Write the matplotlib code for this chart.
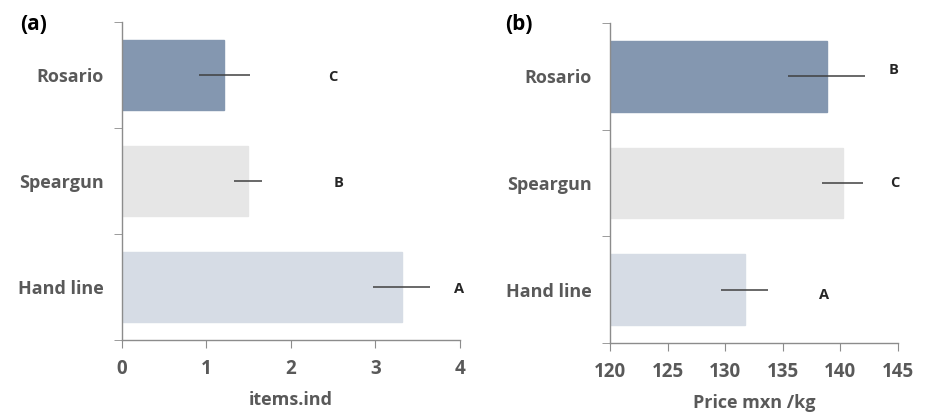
import matplotlib.pyplot as plt
import numpy as np

plt.rcParams['font.family'] = ['Open Sans', 'DejaVu Sans']

methods = ['Hand line', 'Speargun', 'Rosario']
colors = ['#d6dce5', '#e6e6e6', '#8497b0']

items = [3.31, 1.49, 1.21]
items_err = [0.34, 0.17, 0.30]
items_letters = ['A', 'B', 'C']
items_letter_x = [3.99, 2.56, 2.5]

price = [131.7, 140.2, 138.8]
price_err = [2.05, 1.8, 3.35]
price_letters = ['A', 'C', 'B']
price_letter_x = [138.6, 144.75, 144.6]
price_letter_dy = [-0.05, 0.0, 0.06]

grey = '#595959'
spine = '#8c8c8c'

fig = plt.figure(figsize=(9.27, 4.13), dpi=100)
ax1 = fig.add_axes([0.1316, 0.1768, 0.3646, 0.7699])
ax2 = fig.add_axes([0.658, 0.1695, 0.3107, 0.7745])

y = np.arange(len(methods))


def style(ax, xlabel, xticks, xlim):
    for s in ['top', 'right']:
        ax.spines[s].set_visible(False)
    for s in ['left', 'bottom']:
        ax.spines[s].set_color(spine)
        ax.spines[s].set_linewidth(1.0)
    ax.set_ylim(-0.5, 2.5)
    ax.set_xlim(*xlim)
    ax.set_xticks(xticks)
    ax.set_yticks(y)
    ax.set_yticklabels(methods, fontsize=13, fontweight='bold', color=grey)
    ax.set_yticks([-0.5, 0.5, 1.5, 2.5], minor=True)
    ax.tick_params(axis='y', which='major', length=0, pad=13)
    ax.tick_params(axis='y', which='minor', length=6, color=spine, direction='out')
    ax.tick_params(axis='x', length=6, color=spine, direction='out', labelsize=13.5,
                   labelcolor=grey, pad=8)
    for lab in ax.get_xticklabels():
        lab.set_fontweight('bold')
    ax.set_xlabel(xlabel, fontsize=13, fontweight='bold', color=grey, labelpad=8)


# (a) items per individual
ax1.barh(y, items, height=0.66, color=colors, edgecolor=colors)
ax1.errorbar(items, y, xerr=items_err, fmt='none', ecolor='#404040', elinewidth=1.1, capsize=0)
for yi, lx, lt in zip(y, items_letter_x, items_letters):
    ax1.text(lx, yi - 0.02, lt, ha='center', va='center', fontsize=10.5, fontweight='bold', color='#262626')
style(ax1, 'items.ind', [0, 1, 2, 3, 4], (0, 4))

# (b) price
ax2.barh(y, np.array(price) - 120, left=120, height=0.66, color=colors, edgecolor=colors)
ax2.errorbar(price, y, xerr=price_err, fmt='none', ecolor='#404040', elinewidth=1.1, capsize=0)
for yi, lx, lt, dy in zip(y, price_letter_x, price_letters, price_letter_dy):
    ax2.text(lx, yi + dy, lt, ha='center', va='center', fontsize=10.5, fontweight='bold', color='#262626')
style(ax2, 'Price mxn /kg', [120, 125, 130, 135, 140, 145], (120, 145))

fig.text(0.022, 0.94, '(a)', fontsize=15, fontweight='bold', color='black', va='center')
fig.text(0.545, 0.94, '(b)', fontsize=15, fontweight='bold', color='black', va='center')

fig.savefig('out.png', dpi=100)
